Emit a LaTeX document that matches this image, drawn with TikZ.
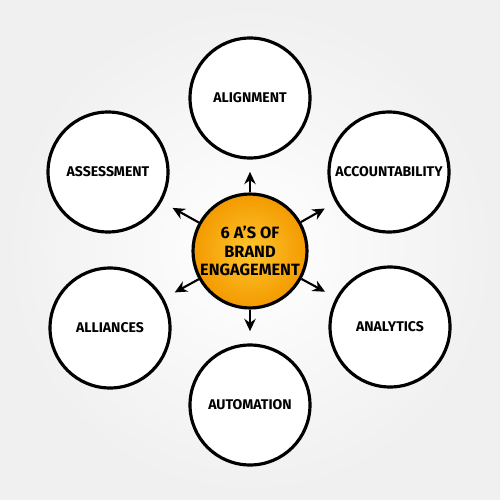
\documentclass[tikz,border=0pt]{standalone}
\usepackage{fontspec}
\setsansfont{Fira Sans}
\usetikzlibrary{positioning}
\usetikzlibrary{arrows.meta}
\definecolor{hubin}{HTML}{FFC52E}
\definecolor{hubout}{HTML}{F39A00}
\tikzset{>={Stealth[length=7pt,width=6.5pt]}}
\tikzset{hub/.style={circle, draw, line width=1.8pt, minimum size=2.28cm, inner sep=0pt,
    inner color=hubin, outer color=hubout, align=center,
    font=\sffamily\bfseries\fontsize{9.3}{10.5}\selectfont}}
\tikzset{leaf/.style={circle, draw, line width=1.8pt, minimum size=2.4cm, inner sep=0pt,
    fill=white, font=\sffamily\bfseries\fontsize{8}{9}\selectfont}}
\tikzset{arr/.style={->, line width=1.2pt, shorten >=7pt}}

\begin{document}
\begin{tikzpicture}[x=0.02cm, y=-0.02cm]
\useasboundingbox (0,0) rectangle (500,500);
\shade[inner color=white, outer color=black!6] (0,0) rectangle (500,500);

\node[hub] (c) at (250,251) {6 A'S OF\\BRAND\\ENGAGEMENT};

\node[leaf] (align) at (250,98) {ALIGNMENT};
\node[leaf] (account) at (389,172) {ACCOUNTABILITY};
\node[leaf] (analyt) at (390,327) {ANALYTICS};
\node[leaf] (autom) at (250,405) {AUTOMATION};
\node[leaf] (allian) at (110,328) {ALLIANCES};
\node[leaf] (assess) at (108,172) {ASSESSMENT};

\foreach \t in {align, account, analyt, autom, allian, assess}
  \draw[arr] (c) -- (\t);
\end{tikzpicture}
\end{document}
